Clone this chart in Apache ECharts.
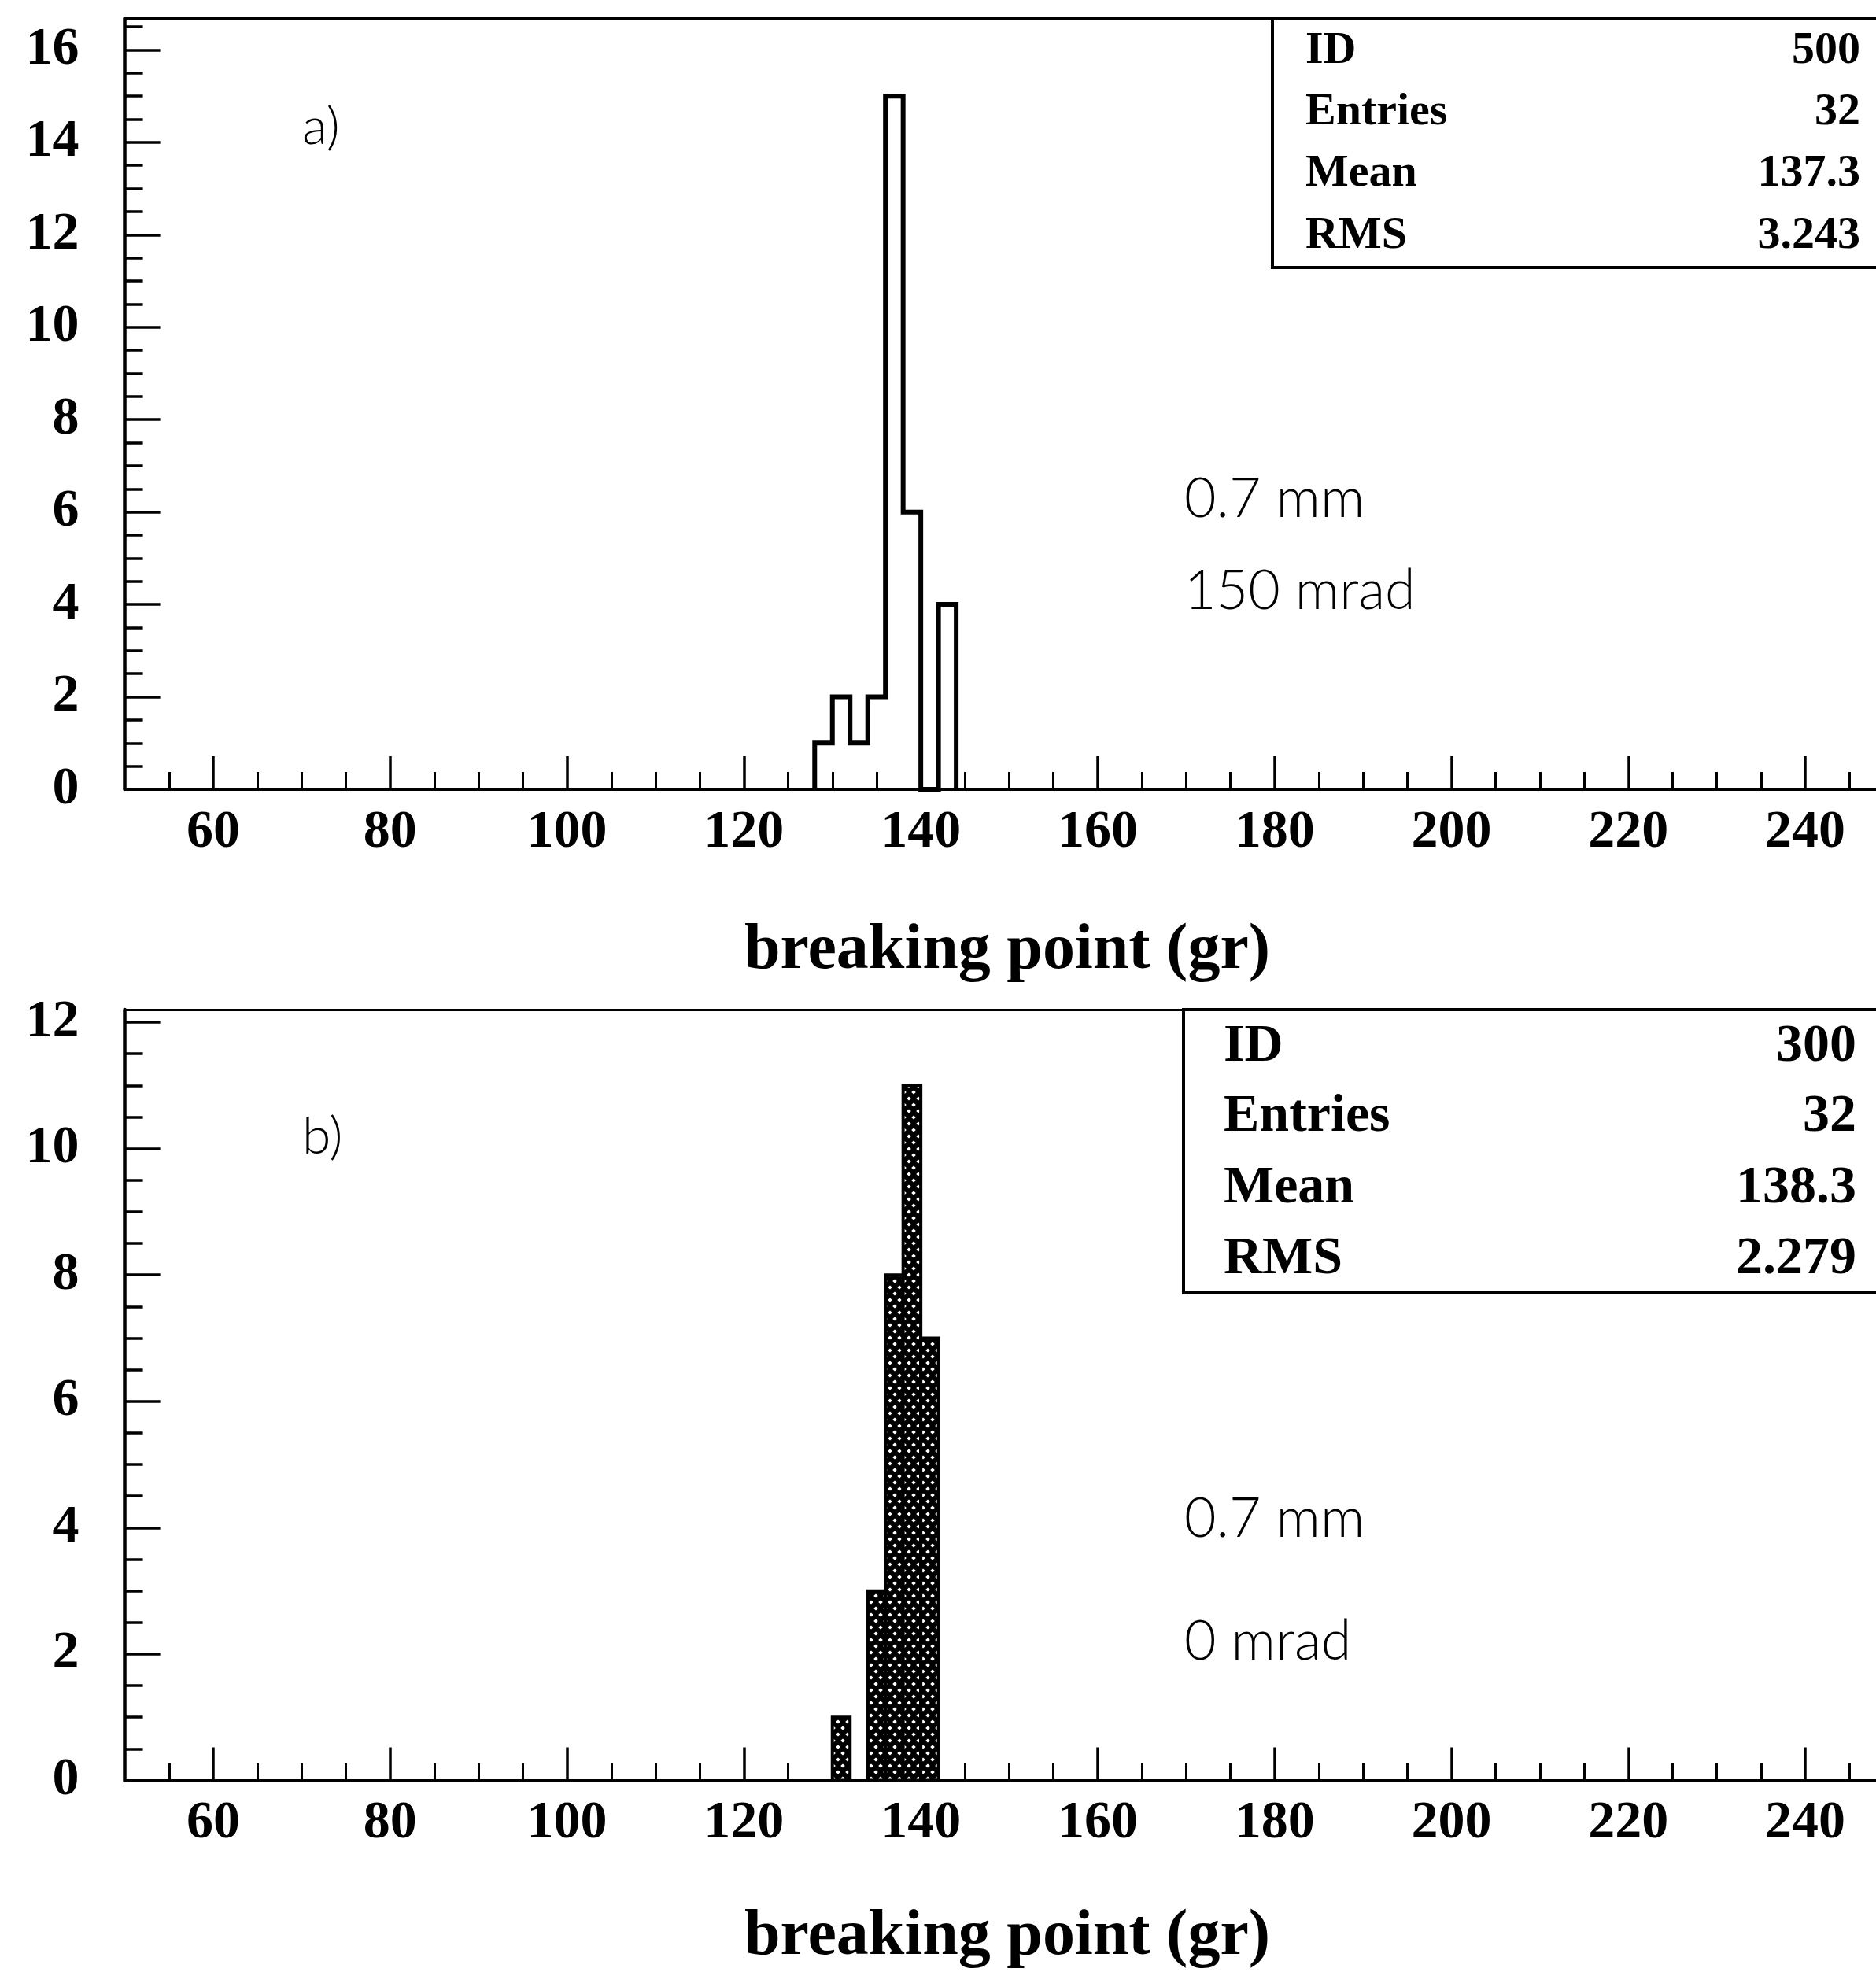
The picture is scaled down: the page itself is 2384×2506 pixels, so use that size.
<!DOCTYPE html>
<html><head><meta charset="utf-8">
<script src="https://cdn.jsdelivr.net/npm/echarts@6/dist/echarts.min.js"></script>
<style>html,body{margin:0;padding:0;background:#fff}#c{width:2384px;height:2506px}</style>
</head><body><div id="c"></div>
<script>
// ---------------- data ----------------
const binWidth = 2;
const binLowA = [128, 130, 132, 134, 136, 138, 140, 142];
const countsA = [1, 2, 1, 2, 15, 6, 0, 4];
const binLowB = [130, 132, 134, 136, 138, 140];
const countsB = [1, 0, 3, 8, 11, 7];
const xMajorTicks = [60, 80, 100, 120, 140, 160, 180, 200, 220, 240];
const xMinorTicks = [55, 65, 70, 75, 85, 90, 95, 105, 110, 115, 125, 130, 135, 145, 150, 155, 165, 170, 175, 185, 190, 195, 205, 210, 215, 225, 230, 235, 245];
const yMajorTicksA = [0, 2, 4, 6, 8, 10, 12, 14, 16];
const yMinorTicksA = [0.5, 1, 1.5, 2.5, 3, 3.5, 4.5, 5, 5.5, 6.5, 7, 7.5, 8.5, 9, 9.5, 10.5, 11, 11.5, 12.5, 13, 13.5, 14.5, 15, 15.5, 16.5];
const yMajorTicksB = [0, 2, 4, 6, 8, 10, 12];
const yMinorTicksB = [0.5, 1, 1.5, 2.5, 3, 3.5, 4.5, 5, 5.5, 6.5, 7, 7.5, 8.5, 9, 9.5, 10.5, 11, 11.5];
const statNames = ['ID', 'Entries', 'Mean', 'RMS'];
const statsA = ['500', '32', '137.3', '3.243'];
const statsB = ['300', '32', '138.3', '2.279'];
const xTitle = 'breaking point (gr)';
const notesA = ['a)', '0.7 mm', '150 mrad'];
const notesB = ['b)', '0.7 mm', '0 mrad'];
const xMin = 50, xMax = 248, yMaxA = 16.68, yMaxB = 12.2;

// ---------------- helpers ----------------
const SERIF = '"Liberation Serif", "Times New Roman", serif';
const SANS = 'Lato, "DejaVu Sans", sans-serif';

function makePattern() {
  const c = document.createElement('canvas');
  c.width = 12; c.height = 16;
  const g = c.getContext('2d');
  g.fillStyle = '#000'; g.fillRect(0, 0, 12, 16);
  g.fillStyle = '#fff';
  const d = (cx, cy, rx, ry) => { g.beginPath(); g.moveTo(cx, cy - ry); g.lineTo(cx + rx, cy); g.lineTo(cx, cy + ry); g.lineTo(cx - rx, cy); g.closePath(); g.fill(); };
  d(3, 4, 2.8, 2.6); d(9, 12, 2.8, 2.6);
  return c;
}
const pattern = makePattern();

// outline polyline of histogram a (built from bins)
const outlineA = [[binLowA[0], 0]];
binLowA.forEach((lo, i) => { outlineA.push([lo, countsA[i]], [lo + binWidth, countsA[i]]); });
outlineA.push([binLowA[binLowA.length - 1] + binWidth, 0]);

const barsB = binLowB.map((lo, i) => [lo, lo + binWidth, countsB[i]]);

const grids = [
  { left: 158.6, right: 0, top: 23.5, height: 979.5, outerBoundsMode: 'none', containLabel: false },
  { left: 158.6, right: 0, top: 1283, height: 979.5, outerBoundsMode: 'none', containLabel: false }
];

function xAxes(gi) {
  return [
    { gridIndex: gi, type: 'value', min: xMin, max: xMax, position: 'bottom',
      axisLine: { show: true, onZero: false, lineStyle: { color: '#000', width: 4 } },
      axisTick: { show: true, inside: true, length: 42, customValues: xMajorTicks, lineStyle: { color: '#000', width: 3.5 } },
      axisLabel: { show: true, customValues: xMajorTicks, margin: 21, color: '#000', fontFamily: SERIF, fontWeight: 'bold', fontSize: 68 },
      splitLine: { show: false } },
    { gridIndex: gi, type: 'value', min: xMin, max: xMax, position: 'bottom',
      axisLine: { show: false, onZero: false },
      axisTick: { show: true, inside: true, length: 22, customValues: xMinorTicks, lineStyle: { color: '#000', width: 3 } },
      axisLabel: { show: false }, splitLine: { show: false } },
    { gridIndex: gi, type: 'value', min: xMin, max: xMax, position: 'top',
      axisLine: { show: true, onZero: false, lineStyle: { color: '#000', width: 3 } },
      axisTick: { show: false }, axisLabel: { show: false }, splitLine: { show: false } }
  ];
}
function yAxes(gi, ymax, major, minor) {
  return [
    { gridIndex: gi, type: 'value', min: 0, max: ymax, position: 'left',
      axisLine: { show: true, onZero: false, lineStyle: { color: '#000', width: 4.5 } },
      axisTick: { show: true, inside: true, length: 45, customValues: major, lineStyle: { color: '#000', width: 3.5 } },
      axisLabel: { show: true, customValues: major, margin: 58, color: '#000', fontFamily: SERIF, fontWeight: 'bold', fontSize: 68 },
      splitLine: { show: false } },
    { gridIndex: gi, type: 'value', min: 0, max: ymax, position: 'left',
      axisLine: { show: false, onZero: false },
      axisTick: { show: true, inside: true, length: 23, customValues: minor, lineStyle: { color: '#000', width: 3.5 } },
      axisLabel: { show: false }, splitLine: { show: false } }
  ];
}

function txt(x, y, text, opt) {
  return { type: 'text', x: x, y: y, z: 100,
    style: Object.assign({ text: text, fill: '#000', textVerticalAlign: 'middle', verticalAlign: 'middle' }, opt) };
}

function statBox(x, y, h, leftX, rightX, rows, fs, values) {
  const els = [{ type: 'rect', z: 90, shape: { x: x, y: y, width: 1200, height: h },
    style: { fill: '#fff', stroke: '#000', lineWidth: 4 } }];
  statNames.forEach((n, i) => {
    els.push(txt(leftX, rows[i], n, { font: 'bold ' + fs + 'px ' + SERIF, textAlign: 'left', align: 'left' }));
    els.push(txt(rightX, rows[i], values[i], { font: 'bold ' + fs + 'px ' + SERIF, textAlign: 'right', align: 'right' }));
  });
  return els;
}

const NOTE_FONT = '300 70px ' + SANS;
const graphics = [].concat(
  statBox(1617, 24, 316, 1659, 2364, [65, 143, 221, 300], 58, statsA),
  statBox(1504, 1283, 360, 1555, 2359, [1330, 1419, 1510, 1600], 68, statsB),
  [
    txt(384, 162, notesA[0], { font: '300 66px ' + SANS, textAlign: 'left', align: 'left' }),
    txt(1505, 634, notesA[1], { font: NOTE_FONT, textAlign: 'left', align: 'left' }),
    txt(1505, 751, notesA[2], { font: NOTE_FONT, textAlign: 'left', align: 'left' }),
    txt(384, 1445, notesB[0], { font: '300 66px ' + SANS, textAlign: 'left', align: 'left' }),
    txt(1505, 1930, notesB[1], { font: NOTE_FONT, textAlign: 'left', align: 'left' }),
    txt(1505, 2086, notesB[2], { font: NOTE_FONT, textAlign: 'left', align: 'left' }),
    txt(1280, 1209, xTitle, { font: 'bold 82px ' + SERIF, textAlign: 'center', align: 'center' }),
    txt(1280, 2462, xTitle, { font: 'bold 82px ' + SERIF, textAlign: 'center', align: 'center' })
  ]
);

const chart = echarts.init(document.getElementById('c'), null, { renderer: 'canvas' });
chart.setOption({
  animation: false,
  backgroundColor: '#fff',
  grid: grids,
  xAxis: xAxes(0).concat(xAxes(1)),
  yAxis: yAxes(0, yMaxA, yMajorTicksA, yMinorTicksA).concat(yAxes(1, yMaxB, yMajorTicksB, yMinorTicksB)),
  series: [
    { type: 'line', xAxisIndex: 0, yAxisIndex: 0, data: outlineA, showSymbol: false, symbol: 'none',
      lineStyle: { color: '#000', width: 6, join: 'miter' }, z: 5 },
    { type: 'custom', xAxisIndex: 3, yAxisIndex: 2, data: barsB, encode: { x: [0, 1], y: 2 }, z: 5,
      renderItem: function (params, api) {
        const lo = api.value(0), hi = api.value(1), c = api.value(2);
        if (!c) return null;
        const p0 = api.coord([lo, c]), p1 = api.coord([hi, 0]);
        return { type: 'rect', shape: { x: p0[0], y: p0[1], width: p1[0] - p0[0], height: p1[1] - p0[1] },
          style: { fill: { image: pattern, repeat: 'repeat' }, stroke: '#000', lineWidth: 4 } };
      } }
  ],
  graphic: { elements: graphics }
});
</script></body></html>
